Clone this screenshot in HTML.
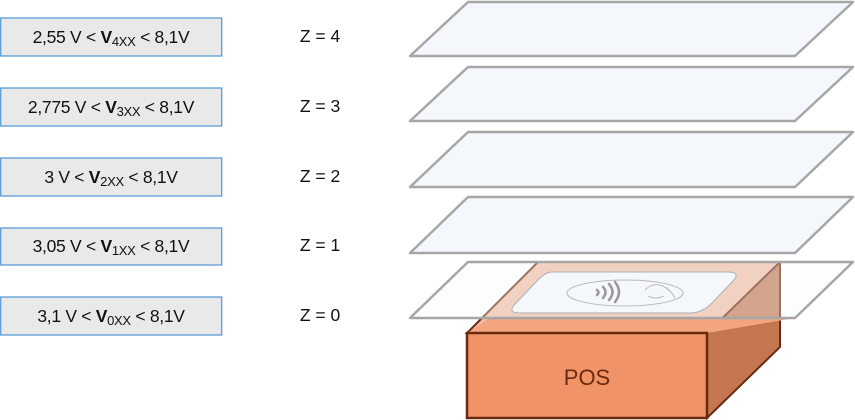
<!DOCTYPE html>
<html><head><meta charset="utf-8"><style>
html,body{margin:0;padding:0;background:#fff;}
svg{display:block;font-family:"Liberation Sans",Arial,sans-serif;}
</style></head><body>
<svg width="855" height="420" viewBox="0 0 855 420" xmlns="http://www.w3.org/2000/svg">
<g stroke="#5b9bd5" stroke-width="1.3" fill="#e9e9e9">
<rect x="0.7" y="18" width="221" height="38"/>
<rect x="0.7" y="88" width="221" height="38"/>
<rect x="0.7" y="158" width="221" height="38"/>
<rect x="0.7" y="228" width="221" height="37"/>
<rect x="0.7" y="297" width="221" height="38"/>
</g>
<g font-size="17.5" fill="#111" text-anchor="middle">
<text x="111" y="43" letter-spacing="-0.3">2,55 V &lt; <tspan font-weight="bold">V</tspan><tspan font-size="13" dy="3">4XX</tspan><tspan dy="-3"> &lt; 8,1V</tspan></text>
<text x="111" y="113" letter-spacing="-0.3">2,775 V &lt; <tspan font-weight="bold">V</tspan><tspan font-size="13" dy="3">3XX</tspan><tspan dy="-3"> &lt; 8,1V</tspan></text>
<text x="111" y="183" letter-spacing="-0.3">3 V &lt; <tspan font-weight="bold">V</tspan><tspan font-size="13" dy="3">2XX</tspan><tspan dy="-3"> &lt; 8,1V</tspan></text>
<text x="111" y="252" letter-spacing="-0.3">3,05 V &lt; <tspan font-weight="bold">V</tspan><tspan font-size="13" dy="3">1XX</tspan><tspan dy="-3"> &lt; 8,1V</tspan></text>
<text x="111" y="322" letter-spacing="-0.3">3,1 V &lt; <tspan font-weight="bold">V</tspan><tspan font-size="13" dy="3">0XX</tspan><tspan dy="-3"> &lt; 8,1V</tspan></text>
<text x="320" y="42">Z = 4</text>
<text x="320" y="112">Z = 3</text>
<text x="320" y="182">Z = 2</text>
<text x="320" y="251">Z = 1</text>
<text x="320" y="321">Z = 0</text>
</g>
<g fill="#f4f8fc" stroke="#a6a6a6" stroke-width="2.5" stroke-linejoin="round">
<polygon points="468,2 853,2 795,56 410,56"/>
<polygon points="468,67 853,67 795,121 410,121"/>
<polygon points="468,132 853,132 795,187 410,187"/>
<polygon points="468,197 853,197 795,253 410,253"/>
</g>
<!-- POS box -->
<polygon points="538,262 780,262 780,347 707,418 707,333" fill="#c47650" stroke="#6b2a0e" stroke-width="2"/>
<polygon points="538,262 780,262 707,333 467,333" fill="#f0bea4" stroke="#6b2a0e" stroke-width="2"/>
<polygon points="490,318 795,318 707,333 467,333" fill="#f2a57e"/>
<rect x="467" y="333" width="240" height="85" fill="#f09367" stroke="#6b2a0e" stroke-width="2.5"/>
<text x="587" y="385" text-anchor="middle" font-size="22" fill="#6b2a0e">POS</text>
<path d="M552,272 H728 Q742,272 732,282 L712,303 Q702,313 690,313 H520 Q506,313 516,303 L536,282 Q545,272 552,272 Z" fill="#f4f7fa" stroke="#888" stroke-width="1"/>
<ellipse cx="625" cy="293" rx="58" ry="13" fill="none" stroke="#999" stroke-width="1"/>
<g stroke="#666" stroke-width="2.5" fill="none" stroke-linecap="round">
<path d="M597,290 q3,2 0,5"/><path d="M603,287 q5,5 0,11"/><path d="M609,284 q7,8 0,16"/><path d="M615,282 q8,10 0,20"/>
</g>
<path d="M645,290 q8,-8 18,-4 q8,4 12,12 M648,296 q8,4 16,0" stroke="#999" fill="none" stroke-width="1"/>
<polygon points="468,262 853,262 795,318 410,318" fill="#f4f8fc" fill-opacity="0.35" stroke="#a6a6a6" stroke-width="2.5" stroke-linejoin="round"/>
</svg>
</body></html>
